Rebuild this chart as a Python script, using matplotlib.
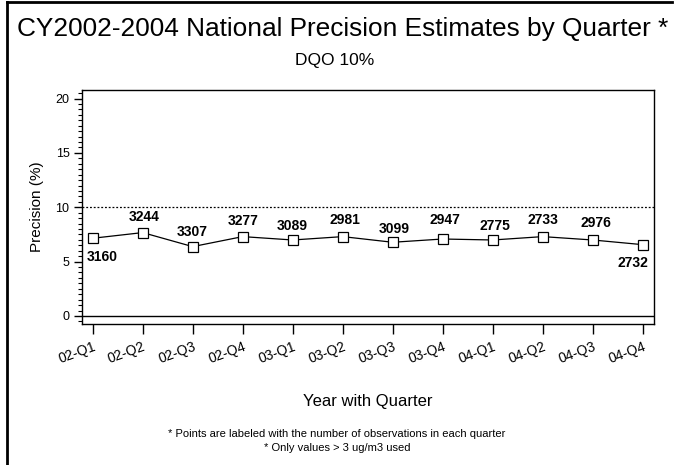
import matplotlib
matplotlib.use("Agg")
import matplotlib.pyplot as plt
from matplotlib.ticker import MultipleLocator
from matplotlib.lines import Line2D

quarters = ["02-Q1", "02-Q2", "02-Q3", "02-Q4", "03-Q1", "03-Q2",
            "03-Q3", "03-Q4", "04-Q1", "04-Q2", "04-Q3", "04-Q4"]
precision = [7.15, 7.67, 6.38, 7.30, 6.99, 7.30, 6.78, 7.08, 6.99, 7.30, 6.99, 6.56]
n_obs = [3160, 3244, 3307, 3277, 3089, 2981, 3099, 2947, 2775, 2733, 2976, 2732]
dqo = 10

# label offsets in pixels (style only)
label_dx = [10, 1, 0, 0, 0, 2, 2, 2, 2, 0, 3, -10]
label_dy = [-19, 16, 15, 16, 14, 17, 13, 19, 14, 17, 17, -18]

plt.rcParams['font.family'] = ['Liberation Sans', 'DejaVu Sans']

fig = plt.figure(figsize=(6.74, 4.65), dpi=100)
ax = fig.add_axes([82/674, 1-324/465, (654-82)/674, (324-90)/465])

x = list(range(len(quarters)))
ax.plot(x, precision, color='black', lw=0.9, marker='s', markersize=6.5,
        markerfacecolor='white', markeredgecolor='black', markeredgewidth=0.9, zorder=3)
for xi, yi, n, dx, dy in zip(x, precision, n_obs, label_dx, label_dy):
    ax.annotate(str(n), (xi, yi), xytext=(dx, dy), textcoords='offset pixels',
                ha='center', va='center', fontsize=10, fontweight='bold')

ax.axhline(dqo, color='black', lw=0.9, ls=(0, (1.5, 1.5)))
ax.axhline(0, color='black', lw=1.0)

ax.set_xlim(-0.214, 11.226)
ax.set_ylim(-0.74, 20.79)
ax.set_yticks([0, 5, 10, 15, 20])
ax.yaxis.set_minor_locator(MultipleLocator(0.5))
ax.set_xticks(x)
ax.set_xticklabels(quarters, rotation=20, ha='right', rotation_mode='anchor', fontsize=10)
ax.tick_params(axis='x', length=7, width=1, direction='out', pad=4)
ax.tick_params(axis='y', which='major', length=6, width=1, labelsize=9, pad=3)
ax.tick_params(axis='y', which='minor', length=3, width=0.8)
for s in ax.spines.values():
    s.set_linewidth(1.0)

ax.set_ylabel("Precision (%)", fontsize=11, labelpad=8)
ax.set_xlabel("Year with Quarter", fontsize=12, labelpad=20)

fig.text(0.508, 1-29/465, "CY2002-2004 National Precision Estimates by Quarter *",
         ha='center', va='center', fontsize=18.9)
fig.text(0.497, 1-61/465, "DQO 10%", ha='center', va='center', fontsize=12.5)
fig.text(0.50, 1-434/465, "* Points are labeled with the number of observations in each quarter",
         ha='center', va='center', fontsize=8)
fig.text(0.50, 1-448/465, "* Only values > 3 ug/m3 used",
         ha='center', va='center', fontsize=8)

# outer border (top and left)
fig.add_artist(Line2D([6.5/674, 6.5/674], [0, 1-2/465], transform=fig.transFigure,
                      color='black', lw=2))
fig.add_artist(Line2D([6.5/674, 672/674], [1-2/465, 1-2/465], transform=fig.transFigure,
                      color='black', lw=2))

fig.savefig("out.png", dpi=100)
